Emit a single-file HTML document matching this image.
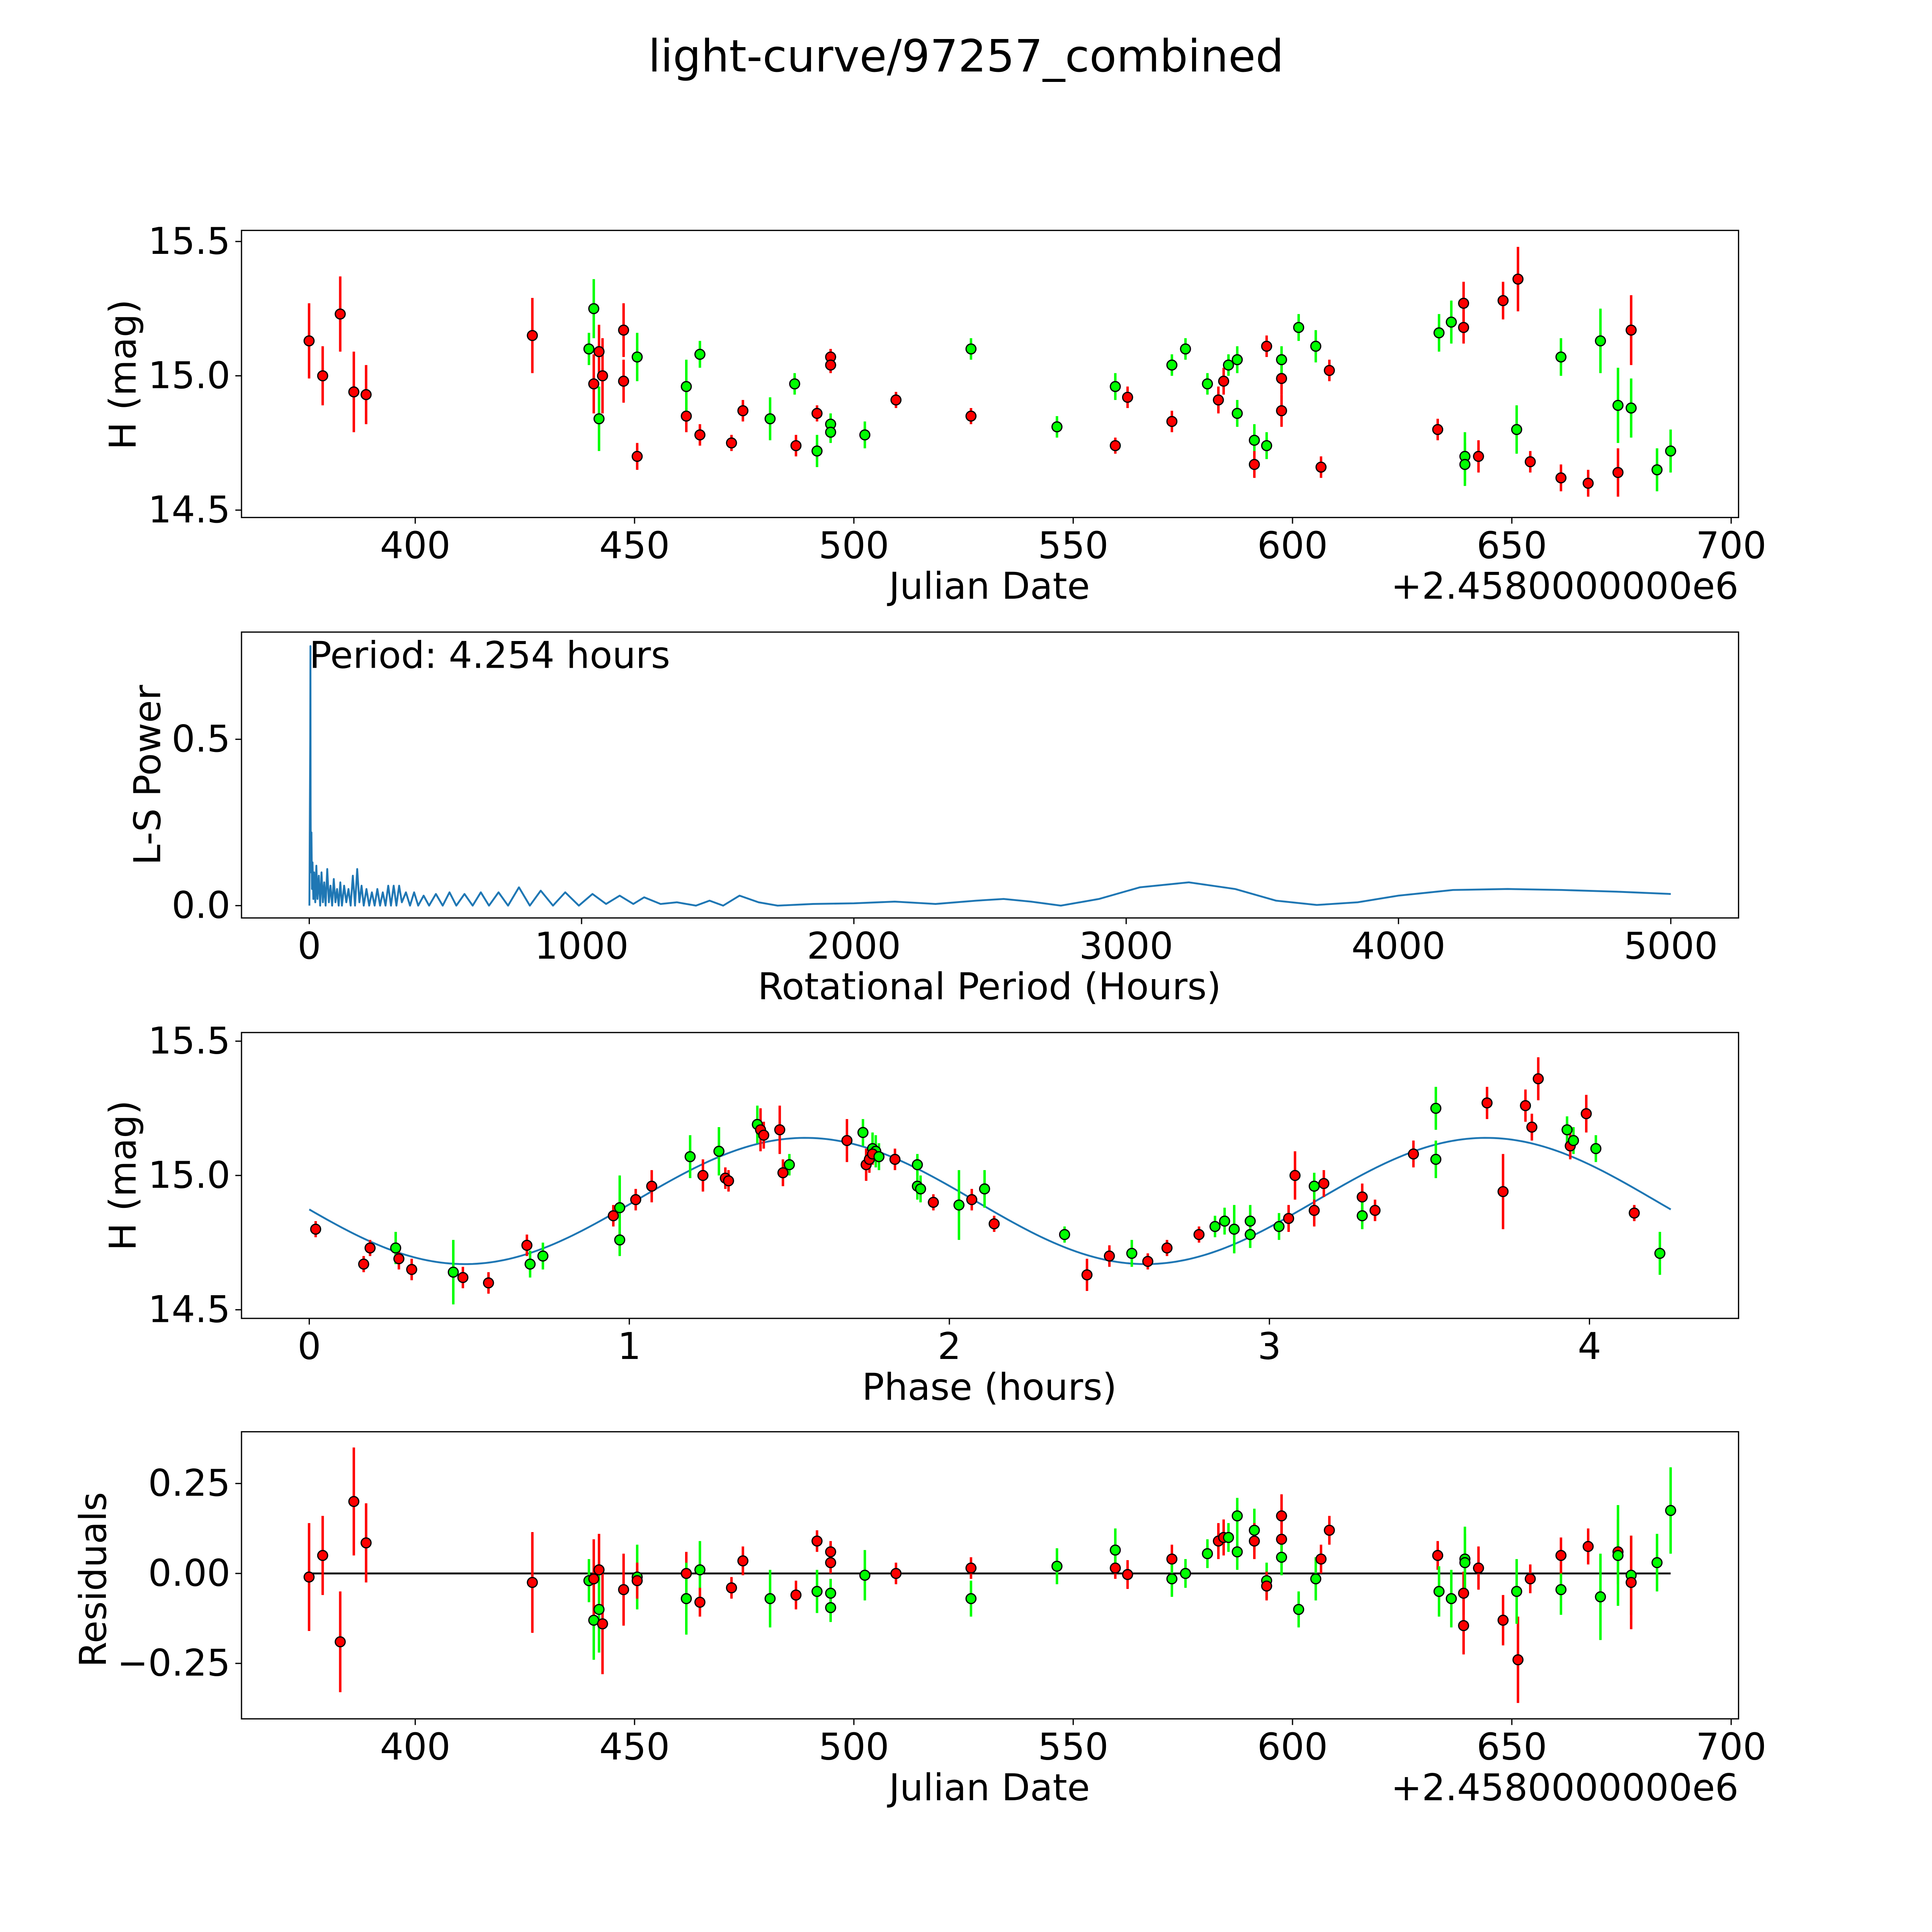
<!DOCTYPE html>
<html><head><meta charset="utf-8"><title>light-curve/97257_combined</title>
<style>
html,body{margin:0;padding:0;background:#fff;overflow:hidden;width:100%;height:100%;}
svg{display:block;position:fixed;left:0;top:0;width:100vw;height:100vh;font-family:"DejaVu Sans","Liberation Sans",sans-serif;}
</style></head>
<body>
<svg id="fig" xmlns="http://www.w3.org/2000/svg" viewBox="0 0 1568 1568" preserveAspectRatio="none">
<rect x="0" y="0" width="1568" height="1568" fill="#fff"/>
<text x="784" y="58" font-size="36" text-anchor="middle">light-curve/97257_combined</text>
<g id="g1"></g>
<g id="g2"></g>
<g id="g3"></g>
<g id="g4"></g>
</svg>
<script>
// ---------- Panel 1 data: light curve ----------
const lcJd  = [375.8,378.9,382.9,386.0,388.8,426.7,439.6,440.7,440.7,441.9,441.9,442.7,447.5,447.5,450.6,450.6,461.8,461.8,464.9,464.9,472.1,474.7,480.9,486.5,486.8,491.6,491.6,494.7,494.7,494.7,494.7,502.5,509.6,526.7,526.7,546.3,559.6,559.6,562.4,572.5,572.5,575.6,580.6,583.1,584.3,585.4,587.4,587.4,591.3,591.3,594.1,594.1,597.5,597.5,597.5,601.4,605.3,606.5,608.4,633.1,633.4,636.2,639.0,639.0,639.3,639.3,642.4,648.0,651.4,651.1,654.2,661.2,661.2,667.4,670.2,674.2,674.2,677.2,677.2,683.1,686.2];
const lcMag = [15.13,15.00,15.23,14.94,14.93,15.15,15.10,15.25,14.97,15.09,14.84,15.00,15.17,14.98,15.07,14.70,14.85,14.96,15.08,14.78,14.75,14.87,14.84,14.97,14.74,14.86,14.72,15.07,15.04,14.82,14.79,14.78,14.91,14.85,15.10,14.81,14.74,14.96,14.92,14.83,15.04,15.10,14.97,14.91,14.98,15.04,15.06,14.86,14.76,14.67,14.74,15.11,14.87,14.99,15.06,15.18,15.11,14.66,15.02,14.80,15.16,15.20,15.27,15.18,14.70,14.67,14.70,15.28,15.36,14.80,14.68,15.07,14.62,14.60,15.13,14.64,14.89,14.88,15.17,14.65,14.72];
const lcErr = [0.14,0.11,0.14,0.15,0.11,0.14,0.06,0.11,0.11,0.10,0.12,0.14,0.10,0.08,0.09,0.05,0.06,0.10,0.05,0.04,0.03,0.04,0.08,0.04,0.04,0.03,0.06,0.03,0.03,0.04,0.04,0.05,0.03,0.03,0.04,0.04,0.03,0.05,0.04,0.04,0.04,0.04,0.04,0.05,0.05,0.04,0.05,0.05,0.06,0.05,0.05,0.04,0.06,0.06,0.05,0.05,0.06,0.04,0.04,0.04,0.07,0.08,0.08,0.06,0.09,0.08,0.06,0.07,0.12,0.09,0.04,0.07,0.05,0.05,0.12,0.09,0.14,0.11,0.13,0.08,0.08];
const lcCol = ['r','r','r','r','r','r','g','g','r','r','g','r','r','r','g','r','r','g','g','r','r','r','g','g','r','r','g','r','r','g','g','g','r','r','g','g','r','g','r','r','g','g','g','r','r','g','g','g','g','r','g','r','r','r','g','g','g','r','r','r','g','g','r','r','g','g','r','r','r','g','r','g','r','r','g','r','g','g','r','g','g'];
const jdTicks = [400,450,500,550,600,650,700];
const magTicks = [14.5,15.0,15.5];

// ---------- Panel 2 data: Lomb-Scargle ----------
const lsPeriod = [0.5,2,3.5,4.25,5,6,8,10,12,15,18,22,26,30,35,40,45,50,55,60,66,72,78,84,90,96,102,108,114,120,128,136,144,152,160,168,176,184,192,200,210,220,230,240,250,260,270,280,290,300,310,320,330,340,355,370,385,400,420,440,465,490,515,540,570,600,630,660,695,730,770,810,850,895,940,990,1040,1090,1140,1190,1230,1290,1350,1420,1470,1520,1580,1650,1720,1850,2000,2150,2300,2450,2550,2650,2760,2900,3050,3230,3400,3550,3700,3850,4000,4200,4400,4600,4800,5000];
const lsPower  = [0.0,0.25,0.5,0.78,0.3,0.1,0.22,0.05,0.13,0.02,0.1,0.01,0.12,0.02,0.09,0.0,0.1,0.01,0.07,0.0,0.11,0.01,0.06,0.0,0.08,0.01,0.05,0.0,0.07,0.0,0.06,0.01,0.05,0.0,0.09,0.0,0.11,0.01,0.06,0.0,0.05,0.0,0.04,0.0,0.05,0.0,0.04,0.0,0.06,0.0,0.06,0.0,0.06,0.01,0.04,0.0,0.04,0.0,0.03,0.0,0.035,0.0,0.04,0.0,0.035,0.0,0.04,0.0,0.04,0.0,0.055,0.0,0.045,0.0,0.04,0.0,0.035,0.005,0.03,0.005,0.025,0.005,0.01,0.0,0.015,0.0,0.03,0.01,0.0,0.005,0.007,0.012,0.005,0.015,0.02,0.012,0.0,0.02,0.055,0.07,0.05,0.015,0.002,0.01,0.03,0.047,0.05,0.047,0.042,0.035];
const periodTicks = [0,1000,2000,3000,4000,5000];
const powerTicks = [0.0,0.5];

// ---------- Panel 3 data: phased ----------
const phHour = [0.02,0.17,0.19,0.27,0.28,0.32,0.45,0.48,0.56,0.68,0.69,0.73,0.95,0.97,0.97,1.02,1.07,1.19,1.23,1.28,1.30,1.31,1.40,1.41,1.42,1.47,1.48,1.50,1.68,1.73,1.74,1.75,1.76,1.77,1.76,1.78,1.83,1.90,1.90,1.91,1.95,2.03,2.07,2.11,2.14,2.36,2.43,2.50,2.57,2.62,2.68,2.78,2.83,2.86,2.89,2.94,2.94,3.03,3.06,3.08,3.14,3.14,3.17,3.29,3.29,3.33,3.45,3.52,3.52,3.68,3.73,3.80,3.82,3.84,3.93,3.94,3.95,3.99,4.02,4.14,4.22];
const phMag  = [14.80,14.67,14.73,14.73,14.69,14.65,14.64,14.62,14.60,14.74,14.67,14.70,14.85,14.88,14.76,14.91,14.96,15.07,15.00,15.09,14.99,14.98,15.19,15.17,15.15,15.17,15.01,15.04,15.13,15.16,15.04,15.06,15.10,15.09,15.08,15.07,15.06,15.04,14.96,14.95,14.90,14.89,14.91,14.95,14.82,14.78,14.63,14.70,14.71,14.68,14.73,14.78,14.81,14.83,14.80,14.83,14.78,14.81,14.84,15.00,14.87,14.96,14.97,14.92,14.85,14.87,15.08,15.06,15.25,15.27,14.94,15.26,15.18,15.36,15.17,15.11,15.13,15.23,15.10,14.86,14.71];
const phErr  = [0.03,0.03,0.03,0.06,0.04,0.04,0.12,0.04,0.04,0.04,0.05,0.05,0.04,0.12,0.06,0.04,0.06,0.08,0.06,0.09,0.04,0.04,0.07,0.08,0.05,0.09,0.05,0.04,0.08,0.05,0.06,0.05,0.06,0.06,0.04,0.05,0.04,0.04,0.05,0.05,0.03,0.13,0.04,0.07,0.03,0.03,0.06,0.04,0.05,0.03,0.03,0.03,0.04,0.05,0.09,0.06,0.05,0.05,0.05,0.09,0.06,0.05,0.05,0.05,0.05,0.04,0.05,0.07,0.08,0.06,0.14,0.06,0.05,0.08,0.05,0.05,0.05,0.07,0.05,0.03,0.08];
const phCol  = ['r','r','r','g','r','r','g','r','r','r','g','g','r','g','g','r','r','g','r','g','r','r','g','r','r','r','r','g','r','g','r','r','g','g','r','g','r','g','g','g','r','g','r','g','r','g','r','r','g','r','r','r','g','g','g','g','g','g','r','r','r','g','r','r','g','r','r','g','g','r','r','r','r','r','g','r','g','r','g','r','g'];
const phaseTicks = [0,1,2,3,4];
// sine model parameters (mean, amplitude, period, phase zero)
const fitParams = [14.905,0.235,2.127,1.018];

// ---------- Panel 4 data: residuals ----------
const rsJd  = [375.8,378.9,382.9,386.0,388.8,426.7,439.6,440.7,440.7,441.9,441.9,442.7,447.5,450.6,450.6,461.8,461.8,464.9,464.9,472.1,474.7,480.9,486.8,491.6,491.6,494.7,494.7,494.7,494.7,502.5,509.6,526.7,526.7,546.3,559.6,559.6,562.4,572.5,572.5,575.6,580.6,583.1,584.3,585.4,587.4,587.4,591.3,591.3,594.1,594.1,597.5,597.5,597.5,601.4,605.3,606.5,608.4,633.1,633.4,636.2,639.0,639.0,639.3,639.3,642.4,648.0,651.4,651.1,654.2,661.2,661.2,667.4,670.2,674.2,674.2,677.2,677.2,683.1,686.2];
const rsVal = [-0.01,0.05,-0.19,0.20,0.085,-0.025,-0.02,-0.13,-0.015,0.01,-0.10,-0.14,-0.045,-0.01,-0.02,0.0,-0.07,0.01,-0.08,-0.04,0.035,-0.07,-0.06,0.09,-0.05,0.06,0.03,-0.055,-0.095,-0.005,0.0,0.015,-0.07,0.02,0.015,0.065,-0.003,0.04,-0.015,0.0,0.055,0.09,0.1,0.1,0.16,0.06,0.12,0.09,-0.02,-0.035,0.16,0.095,0.045,-0.10,-0.015,0.04,0.12,0.05,-0.05,-0.07,-0.145,-0.055,0.04,0.03,0.015,-0.13,-0.24,-0.05,-0.015,-0.045,0.05,0.075,-0.065,0.06,0.05,-0.005,-0.025,0.03,0.175];
const rsErr = [0.15,0.11,0.14,0.15,0.11,0.14,0.06,0.11,0.11,0.10,0.12,0.14,0.10,0.09,0.05,0.06,0.10,0.08,0.04,0.03,0.04,0.08,0.04,0.03,0.06,0.03,0.03,0.04,0.04,0.07,0.03,0.03,0.05,0.05,0.03,0.06,0.04,0.04,0.05,0.04,0.04,0.05,0.05,0.04,0.05,0.05,0.06,0.05,0.05,0.04,0.06,0.06,0.05,0.05,0.06,0.04,0.04,0.04,0.07,0.08,0.08,0.06,0.09,0.08,0.06,0.07,0.12,0.09,0.04,0.07,0.05,0.05,0.12,0.09,0.14,0.11,0.13,0.08,0.12];
const rsCol = ['r','r','r','r','r','r','g','g','r','r','g','r','r','g','r','r','g','g','r','r','r','g','r','r','g','r','r','g','g','g','r','r','g','g','r','g','r','r','g','g','g','r','r','g','g','g','g','r','g','r','r','r','g','g','g','r','r','r','g','g','r','r','g','g','r','r','r','g','r','g','r','r','g','r','g','g','r','g','g'];
const resTicks = [0.25,0.0,-0.25];

// ---------- axis functions ----------
const NS = 'http://www.w3.org/2000/svg';
const xJd  = d => 337 + (d - 400) * 3.56;
const yM1  = m => 305 - (m - 15) * 218;
const xPer = p => 251 + p * 0.221;
const yPow = v => 735 - v * 270;
const xPh  = h => 251 + h * 259.75;
const yM3  = m => 954 - (m - 15) * 218;
const yRes = r => 1277 - r * 292;
const COL = {r:'#ff0000', g:'#00ff00'};

function mk(tag, attrs, parent){
  const e = document.createElementNS(NS, tag);
  for (const k in attrs) e.setAttribute(k, attrs[k]);
  parent.appendChild(e);
  return e;
}
function frame(g, x0, y0, x1, y1){
  const r = mk('rect', {x:x0, y:y0, width:x1-x0, height:y1-y0, fill:'none', stroke:'#000', 'stroke-width':1}, g);
  
  
}
function xticks(g, vals, fx, yb, fmt){
  vals.forEach(v => {
    const x = fx(v);
    mk('line', {x1:x, x2:x, y1:yb, y2:yb+5, stroke:'#000', 'stroke-width':1}, g);
    const t = mk('text', {x:x, y:yb+33, 'font-size':30, 'text-anchor':'middle'}, g);
    t.textContent = fmt ? fmt(v) : String(v);
    
    
  });
}
function yticks(g, vals, fy, xl, fmt){
  vals.forEach(v => {
    const y = fy(v);
    mk('line', {x1:xl-5, x2:xl, y1:y, y2:y, stroke:'#000', 'stroke-width':1}, g);
    const t = mk('text', {x:xl-9, y:y+10, 'font-size':30, 'text-anchor':'end'}, g);
    t.textContent = fmt(v);
    
    
  });
}
function label(g, txt, x, y, rot, name){
  const t = mk('text', {x:x, y:y, 'font-size':30, 'text-anchor':'middle'}, g);
  if (rot) t.setAttribute('transform', 'rotate(-90 ' + x + ' ' + y + ')');
  t.textContent = txt;
  
  
}
function points(g, xs, ys, es, cs, fx, fy, name){
  xs.forEach((xv, i) => {
    const x = fx(xv);
    const l = mk('line', {x1:x, x2:x, y1:fy(ys[i]-es[i]), y2:fy(ys[i]+es[i]), stroke:COL[cs[i]], 'stroke-width':2}, g);
    
    
  });
  xs.forEach((xv, i) => {
    const c = mk('circle', {cx:fx(xv), cy:fy(ys[i]), r:4, fill:COL[cs[i]], stroke:'#000', 'stroke-width':1}, g);
    
    
  });
}
const f1 = v => v.toFixed(1);
const f2 = v => (v < 0 ? '\u2212' : '') + Math.abs(v).toFixed(2);

// Panel 1
const g1 = document.getElementById('g1');
frame(g1, 196, 187, 1411, 420);
xticks(g1, jdTicks, xJd, 420);
yticks(g1, magTicks, yM1, 196, f1);
points(g1, lcJd, lcMag, lcErr, lcCol, xJd, yM1, 'observation-point');
label(g1, 'Julian Date', 803, 486, false, 'x-axis-title');
label(g1, 'H (mag)', 110, 304, true, 'y-axis-title');
{ const t = mk('text', {x:1411, y:486, 'font-size':30, 'text-anchor':'end'}, g1); t.textContent = '+2.4580000000e6';
    }

// Panel 2
const g2 = document.getElementById('g2');
frame(g2, 196, 513, 1411, 745);
xticks(g2, periodTicks, xPer, 745);
yticks(g2, powerTicks, yPow, 196, f1);
{ const d = lsPeriod.map((p, i) => (i ? 'L' : 'M') + xPer(p).toFixed(2) + ' ' + yPow(lsPower[i]).toFixed(2)).join(' ');
  const p = mk('path', {d:d, fill:'none', stroke:'#1f77b4', 'stroke-width':1.5, 'stroke-linejoin':'round'}, g2);
    }
{ const t = mk('text', {x:251, y:542, 'font-size':30}, g2); t.textContent = 'Period: 4.254 hours';
    }
label(g2, 'Rotational Period (Hours)', 803, 811, false, 'x-axis-title');
label(g2, 'L-S Power', 130, 629, true, 'y-axis-title');

// Panel 3
const g3 = document.getElementById('g3');
frame(g3, 196, 838, 1411, 1070);
xticks(g3, phaseTicks, xPh, 1070);
yticks(g3, magTicks, yM3, 196, f1);
{ const [mu, amp, per, ph0] = fitParams; let d = '';
  for (let i = 0; i <= 300; i++) { const h = 4.254 * i / 300;
    const m = mu + amp * Math.sin(2 * Math.PI * (h - ph0) / per);
    d += (i ? 'L' : 'M') + xPh(h).toFixed(2) + ' ' + yM3(m).toFixed(2); }
  const p = mk('path', {d:d, fill:'none', stroke:'#1f77b4', 'stroke-width':1.5}, g3);
    }
points(g3, phHour, phMag, phErr, phCol, xPh, yM3, 'phased-point');
label(g3, 'Phase (hours)', 803, 1136, false, 'x-axis-title');
label(g3, 'H (mag)', 110, 954, true, 'y-axis-title');

// Panel 4
const g4 = document.getElementById('g4');
frame(g4, 196, 1162, 1411, 1395);
xticks(g4, jdTicks, xJd, 1395);
yticks(g4, resTicks, yRes, 196, f2);
{ const l = mk('line', {x1:xJd(375.8), x2:xJd(686.2), y1:yRes(0), y2:yRes(0), stroke:'#000', 'stroke-width':1.5}, g4);
    }
points(g4, rsJd, rsVal, rsErr, rsCol, xJd, yRes, 'residual-point');
label(g4, 'Julian Date', 803, 1461, false, 'x-axis-title');
label(g4, 'Residuals', 86, 1282, true, 'y-axis-title');
{ const t = mk('text', {x:1411, y:1461, 'font-size':30, 'text-anchor':'end'}, g4); t.textContent = '+2.4580000000e6';
    }
</script>
</body></html>
